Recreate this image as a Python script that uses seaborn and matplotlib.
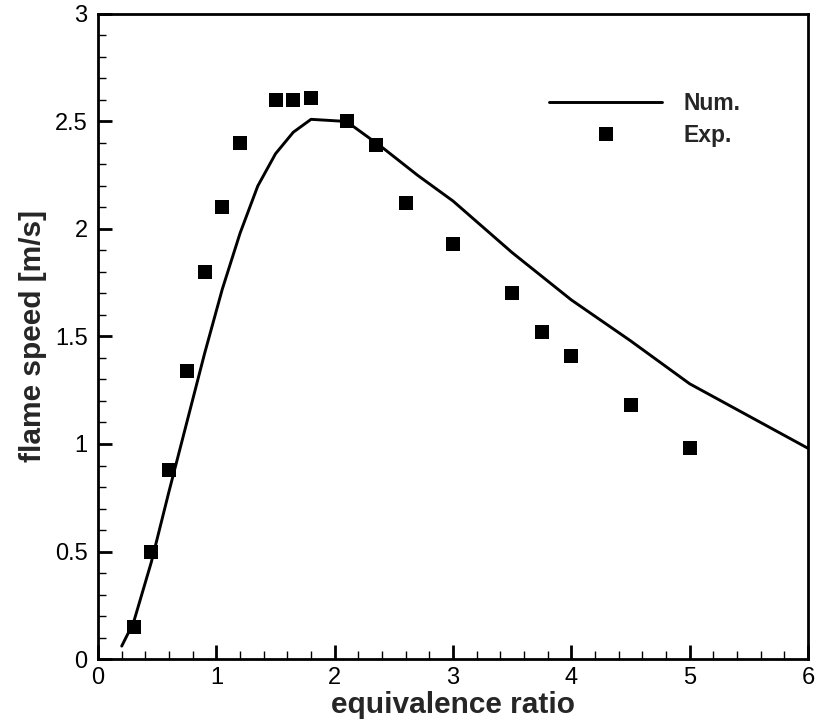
import matplotlib
matplotlib.use("Agg")
import matplotlib.pyplot as plt
from matplotlib.lines import Line2D
from matplotlib.ticker import MultipleLocator, FormatStrFormatter
import seaborn as sns
import pandas as pd

# Numerical curve
num_phi = [0.2, 0.3, 0.45, 0.6, 0.75, 0.9, 1.05, 1.2, 1.35, 1.5, 1.65, 1.8,
           2.1, 2.4, 2.7, 3.0, 3.5, 4.0, 4.5, 5.0, 6.0]
num_speed = [0.06, 0.17, 0.45, 0.78, 1.10, 1.42, 1.72, 1.98, 2.20, 2.35, 2.45, 2.51,
             2.50, 2.38, 2.25, 2.13, 1.89, 1.67, 1.48, 1.28, 0.98]

# Experimental points
exp_phi = [0.3, 0.45, 0.6, 0.75, 0.9, 1.05, 1.2, 1.5, 1.65, 1.8, 2.1, 2.35,
           2.6, 3.0, 3.5, 3.75, 4.0, 4.5, 5.0]
exp_speed = [0.15, 0.50, 0.88, 1.34, 1.80, 2.10, 2.40, 2.60, 2.60, 2.61, 2.50, 2.39,
             2.12, 1.93, 1.70, 1.52, 1.41, 1.18, 0.98]

x_ticks = [0, 1, 2, 3, 4, 5, 6]
y_ticks = [0, 0.5, 1, 1.5, 2, 2.5, 3]

sns.set_theme(style="ticks")
plt.rcParams['font.family'] = ['Liberation Sans', 'DejaVu Sans']

num_df = pd.DataFrame({"phi": num_phi, "speed": num_speed})
exp_df = pd.DataFrame({"phi": exp_phi, "speed": exp_speed})

fig = plt.figure(figsize=(8.17, 7.2), dpi=100)
ax = fig.add_axes([0.120, 0.0847, 0.869, 0.8959])

sns.lineplot(data=num_df, x="phi", y="speed", ax=ax, color="black", linewidth=2.1,
             sort=False, legend=False)
sns.scatterplot(data=exp_df, x="phi", y="speed", ax=ax, color="black", marker="s",
                s=108, linewidth=0, legend=False, zorder=3)

ax.set_xlim(0, 6)
ax.set_ylim(0, 3)
ax.set_xticks(x_ticks)
ax.set_yticks(y_ticks)
ax.xaxis.set_minor_locator(MultipleLocator(0.2))
ax.yaxis.set_minor_locator(MultipleLocator(0.1))
ax.yaxis.set_major_formatter(FormatStrFormatter('%g'))
ax.xaxis.set_major_formatter(FormatStrFormatter('%g'))

ax.tick_params(which="major", direction="in", length=10, width=2.0,
               labelsize=17, pad=7.5, color="black", labelcolor="black")
ax.tick_params(axis="x", which="major", pad=6)
ax.tick_params(which="minor", direction="in", length=5.5, width=1.0, color="black")
ax.tick_params(top=False, right=False, which="both")

for side in ["left", "bottom", "top", "right"]:
    ax.spines[side].set_visible(True)
    ax.spines[side].set_color("black")
    ax.spines[side].set_linewidth(2.0)

ax.set_xlabel("equivalence ratio", fontsize=21.5, fontweight="bold", labelpad=1.5)
ax.set_ylabel("flame speed [m/s]", fontsize=21.5, fontweight="bold", labelpad=6)

handles = [
    Line2D([], [], color="black", linewidth=2.1),
    Line2D([], [], color="black", marker="s", markersize=10.3, linestyle="none",
           markeredgewidth=0),
]
ax.legend(handles, ["Num.", "Exp."], loc="upper left", bbox_to_anchor=(0.635, 0.879),
          frameon=False, borderpad=0, borderaxespad=0, handlelength=4.95,
          handletextpad=0.92, labelspacing=0.38,
          prop={"weight": "bold", "size": 16.5})

fig.savefig("out.png", dpi=100)
